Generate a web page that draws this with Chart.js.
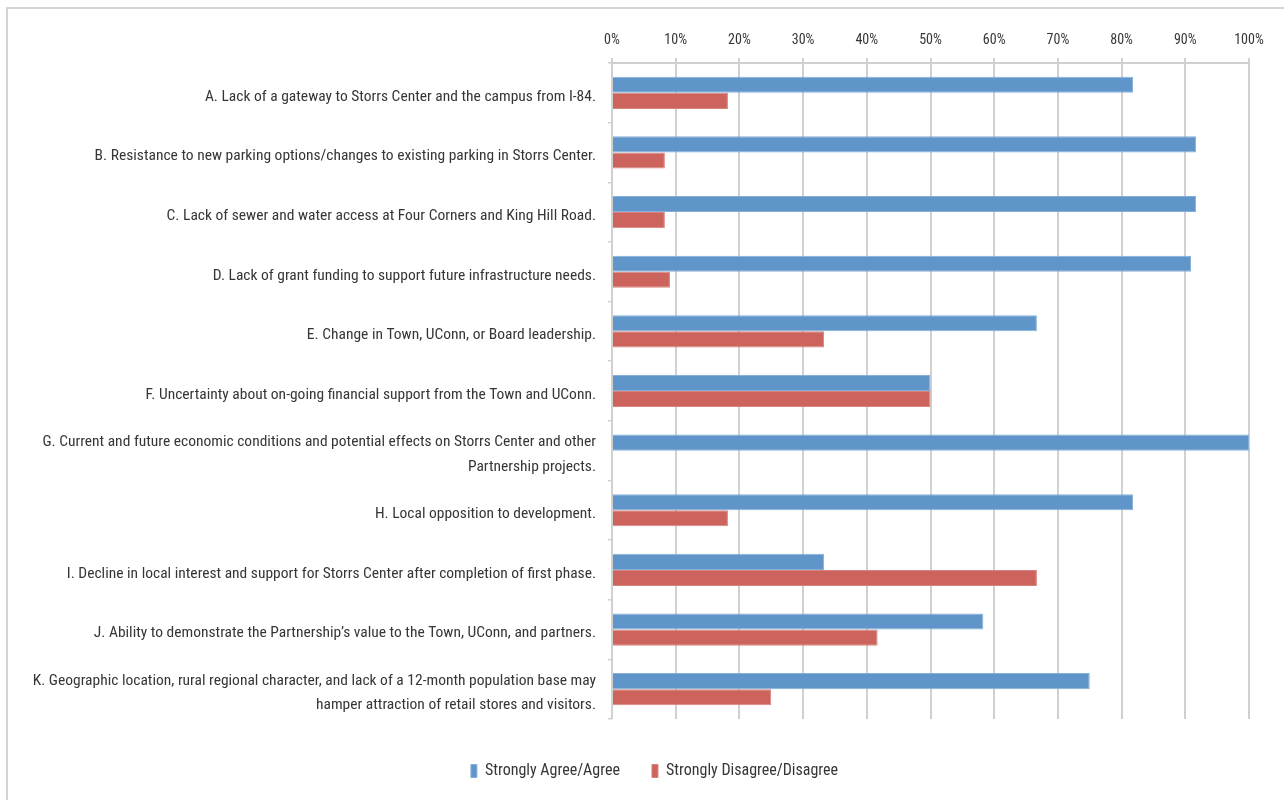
<!DOCTYPE html>
<html>
<head>
<meta charset="utf-8">
<script src="https://cdn.jsdelivr.net/npm/chart.js@4/dist/chart.umd.min.js"></script>
<style>
    html, body { margin: 0; padding: 0; background: #ffffff; overflow: hidden; }
    #frame {
        position: absolute; left: 6px; top: 7px; width: 1300px; height: 820px;
        border: 2px solid #d4d4d4; box-sizing: border-box;
    }
    #wrap { position: absolute; left: 0; top: 0; width: 1284px; height: 800px; }
</style>
</head>
<body>
<div id="frame"></div>
<div id="wrap"><canvas id="riskChart" width="1284" height="800"></canvas></div>
<script>
const categories = [
    'A. Lack of a gateway to Storrs Center and the campus from I-84.',
    'B. Resistance to new parking options/changes to existing parking in Storrs Center.',
    'C. Lack of sewer and water access at Four Corners and King Hill Road.',
    'D. Lack of grant funding to support future infrastructure needs.',
    'E. Change in Town, UConn, or Board leadership.',
    'F. Uncertainty about on-going financial support from the Town and UConn.',
    ['G. Current and future economic conditions and potential effects on Storrs Center and other', 'Partnership projects.'],
    'H. Local opposition to development.',
    'I. Decline in local interest and support for Storrs Center after completion of first phase.',
    'J. Ability to demonstrate the Partnership\u2019s value to the Town, UConn, and partners.',
    ['K. Geographic location, rural regional character, and lack of a 12-month population base may', 'hamper attraction of retail stores and visitors.']
];

const agreeValues = [81.8, 91.7, 91.7, 90.9, 66.7, 50, 100, 81.8, 33.3, 58.3, 75];
const disagreeValues = [18.2, 8.3, 8.3, 9.1, 33.3, 50, 0, 18.2, 66.7, 41.7, 25];

const seriesNames = ['Strongly Agree/Agree', 'Strongly Disagree/Disagree'];
const xTicks = [0, 10, 20, 30, 40, 50, 60, 70, 80, 90, 100];

const FONT = "'Liberation Sans Narrow', 'Arial Narrow', 'Roboto Condensed', 'Liberation Sans', sans-serif";
const TEXT = '#363636';
const GRID = '#d0d0d0';

// nudge the bottom legend a little to the right of the canvas centre
const legendShift = {
    id: 'legendShift',
    afterLayout(chart) {
        chart.legend.left += 60;
    }
};

const ctx = document.getElementById('riskChart').getContext('2d');
new Chart(ctx, {
    type: 'bar',
    plugins: [legendShift],
    data: {
        labels: categories,
        datasets: [
            {
                label: seriesNames[0],
                data: agreeValues,
                backgroundColor: '#5f95c9',
                borderColor: '#86b0da',
                borderWidth: 1,
                categoryPercentage: 0.54,
                barPercentage: 1
            },
            {
                label: seriesNames[1],
                data: disagreeValues,
                backgroundColor: '#cc645d',
                borderColor: '#d9837d',
                borderWidth: 1,
                categoryPercentage: 0.54,
                barPercentage: 1
            }
        ]
    },
    options: {
        indexAxis: 'y',
        responsive: false,
        animation: false,
        layout: { padding: { top: 20, right: 35, bottom: 11, left: 0 } },
        plugins: {
            tooltip: { enabled: false },
            legend: {
                position: 'bottom',
                // empty title only adds space above the legend row
                title: {
                    display: true,
                    text: ' ',
                    font: { size: 2, lineHeight: 1 },
                    padding: { top: 10, bottom: 0 }
                },
                labels: {
                    font: { family: FONT, size: 16 },
                    color: TEXT,
                    boxWidth: 6,
                    boxHeight: 13,
                    padding: 32
                }
            }
        },
        scales: {
            x: {
                position: 'top',
                min: 0,
                max: 100,
                afterBuildTicks: (scale) => {
                    scale.ticks = xTicks.map(v => ({ value: v }));
                },
                afterFit: (scale) => { scale.height = 43; },
                ticks: {
                    font: { family: FONT, size: 14 },
                    color: TEXT,
                    padding: 9,
                    maxRotation: 0,
                    callback: (v) => v + '%'
                },
                grid: { color: GRID, lineWidth: 2, tickLength: 5 },
                border: { display: true, color: GRID, width: 2 }
            },
            y: {
                afterFit: (scale) => { scale.width = 612; },
                ticks: {
                    font: { family: FONT, size: 15.5, lineHeight: 1.6 },
                    color: TEXT,
                    padding: 12,
                    labelOffset: 4
                },
                grid: {
                    offset: true,
                    drawOnChartArea: false,
                    color: GRID,
                    tickLength: 4,
                    lineWidth: 1.5
                },
                border: { display: false }
            }
        }
    }
});
</script>
</body>
</html>
